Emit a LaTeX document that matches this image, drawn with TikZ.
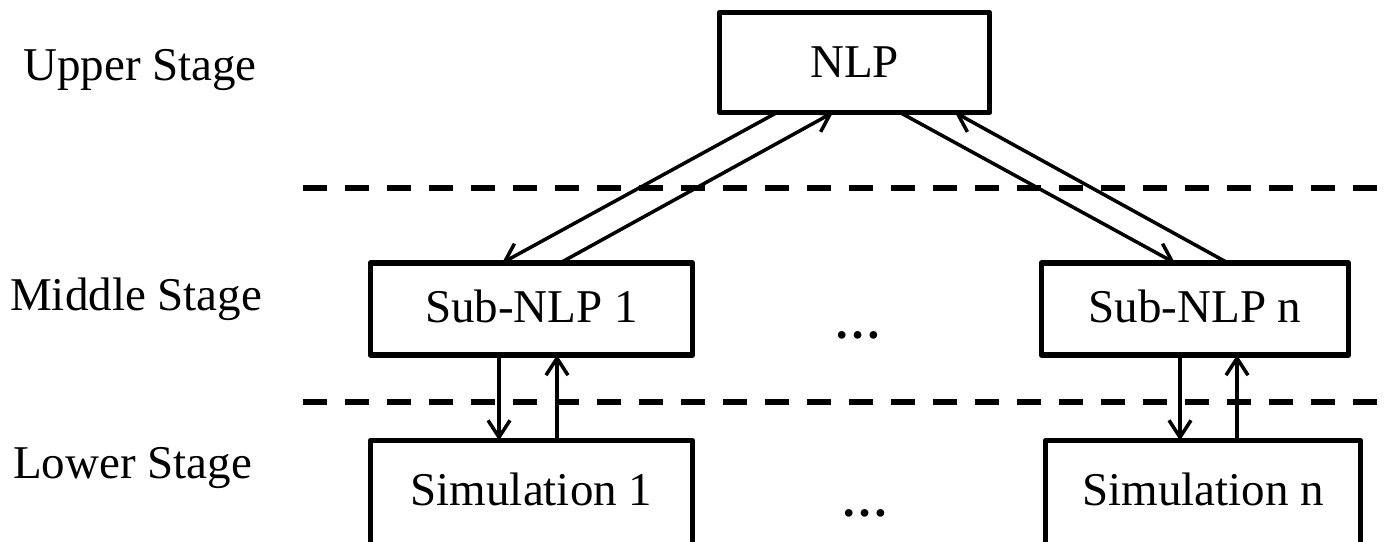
\documentclass[tikz,border=0pt]{standalone}
\usepackage{fontspec}
\setmainfont{Liberation Serif}
\usetikzlibrary{arrows.meta}
\begin{document}
\begin{tikzpicture}[x=1pt,y=-1pt,
  every node/.style={font=\fontsize{47}{56}\selectfont},
  box/.style={draw,line width=5.5pt,line join=round,inner sep=0pt,outer sep=0pt,align=center},
  lbl/.style={inner sep=0pt,anchor=base west},
  dotsnode/.style={inner sep=0pt,anchor=base,font=\fontsize{47}{56}\selectfont\bfseries},
  arr/.style={line width=3.5pt,-{Straight Barb[length=17pt,width=22pt,line width=3.5pt]}},
  sepline/.style={line width=6.5pt,dash pattern=on 24pt off 18pt}]
\clip (0,0) rectangle (1384,541);
\fill[white] (0,0) rectangle (1384,541);
% boxes
\node[box,minimum width=270pt,minimum height=100pt,text height=33pt,text depth=4pt] (nlp) at (854.5,62.5) {NLP};
\node[box,minimum width=322pt,minimum height=92pt,text height=33pt,text depth=6pt] (sub1) at (531.5,309) {Sub-NLP 1};
\node[box,minimum width=307pt,minimum height=92pt,text height=33pt,text depth=6pt] (subn) at (1195,309) {Sub-NLP n};
\node[box,minimum width=322pt,minimum height=104.5pt,text height=33pt,text depth=8pt] (sim1) at (531.5,492.75) {Simulation 1};
\node[box,minimum width=315pt,minimum height=104.5pt,text height=33pt,text depth=8pt] (simn) at (1203,492.75) {Simulation n};
% stage labels
\node[lbl] (upper) at (23,80) {Upper Stage};
\node[lbl] (middle) at (10,310) {Middle Stage};
\node[lbl] (lower) at (13,478) {Lower Stage};
% dots
\node[dotsnode] (dotsmid) at (858,338) {…};
\node[dotsnode] (dotslow) at (865,516) {…};
% separators
\draw[sepline] (303,188) -- (1384,188);
\draw[sepline] (303,402) -- (1384,402);
% connectors upper-middle
\draw[arr] ([xshift=57.5pt]nlp.south west) -- ([xshift=131.5pt]sub1.north west);
\draw[arr] ([xshift=189.5pt]sub1.north west) -- ([xshift=113.5pt]nlp.south west);
\draw[arr] ([xshift=180.5pt]nlp.south west) -- ([xshift=133.5pt]subn.north west);
\draw[arr] ([xshift=186.5pt]subn.north west) -- ([xshift=235.5pt]nlp.south west);
% connectors middle-lower
\draw[arr] ([xshift=128.5pt]sub1.south west) -- ([xshift=128.5pt]sub1.south west |- sim1.north);
\draw[arr] ([xshift=186.5pt]sub1.south west |- sim1.north) -- ([xshift=186.5pt]sub1.south west);
\draw[arr] ([xshift=138.5pt]subn.south west) -- ([xshift=138.5pt]subn.south west |- simn.north);
\draw[arr] ([xshift=195.5pt]subn.south west |- simn.north) -- ([xshift=195.5pt]subn.south west);
\end{tikzpicture}
\end{document}
